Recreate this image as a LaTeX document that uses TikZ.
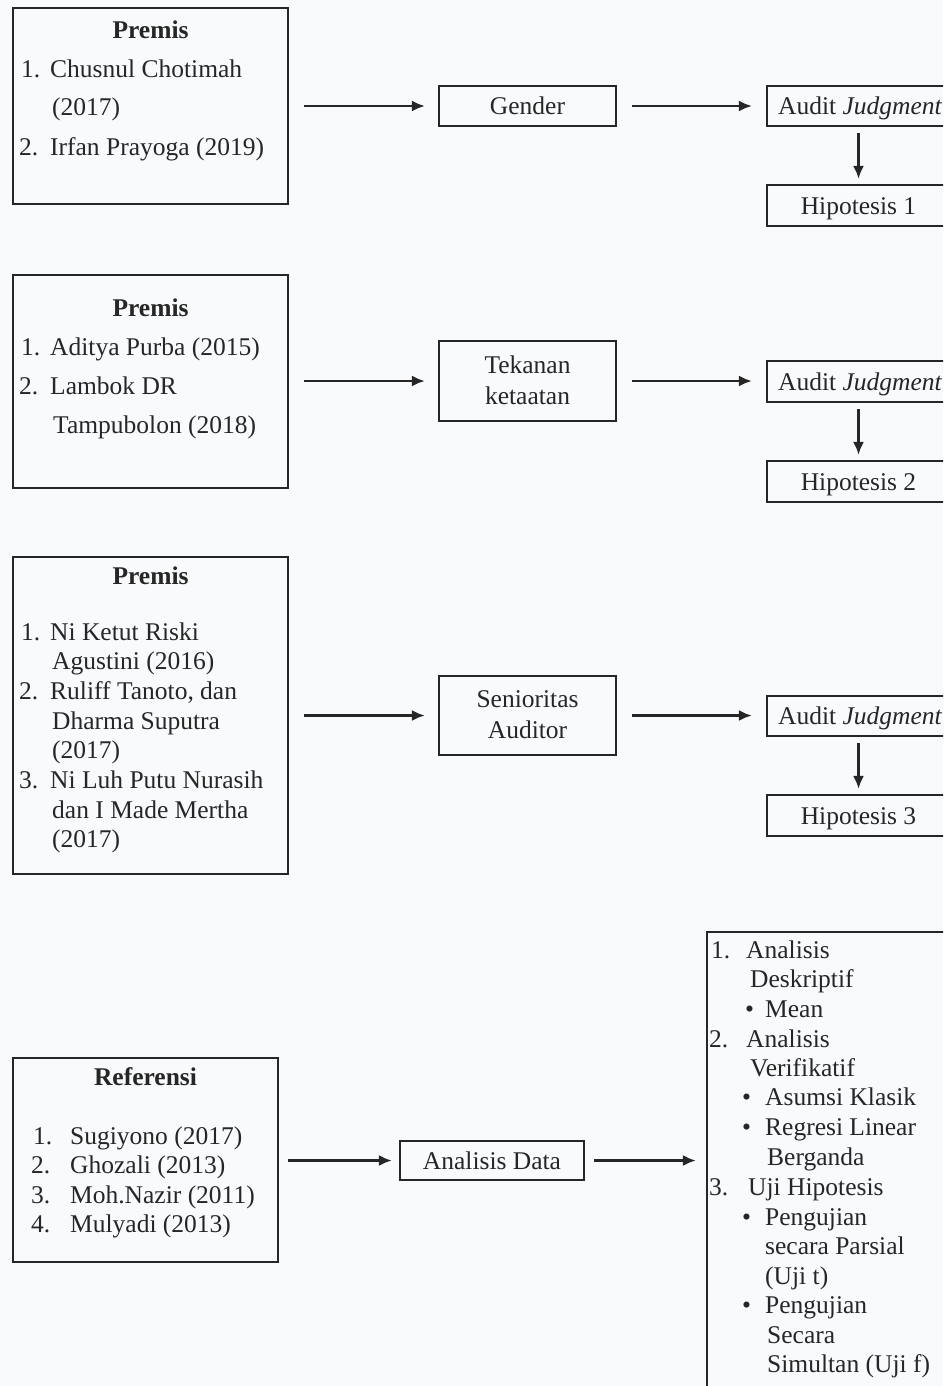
\documentclass[tikz,border=0pt]{standalone}
\usepackage{fontspec}
\setmainfont{Liberation Serif}
\usetikzlibrary{arrows.meta}
\definecolor{bg}{HTML}{F8FAFC}
\definecolor{ink}{HTML}{262626}
\begin{document}
\begin{tikzpicture}[x=1pt,y=-1pt,
  box/.style={draw=ink, line width=2.3pt, inner sep=0pt, rectangle},
  txt/.style={inner sep=0pt, anchor=base west, text=ink, font=\fontsize{25.5}{30}\selectfont},
  ctxt/.style={txt, anchor=base},
  hd/.style={ctxt, font=\fontsize{25.5}{30}\selectfont\bfseries},
  arr/.style={draw=ink, line width=2.3pt, -{Latex[length=13pt,width=11pt]}}
]
\path[use as bounding box, fill=bg] (0,0) rectangle (943,1386);
\clip (0,0) rectangle (943,1386);

% ---------- Row 1 ----------
\node[box, minimum width=275pt, minimum height=196pt] (p1) at (150.5,106) {};
\node[hd] (p1h) at (150.5,39) {Premis};
\node[txt] (p1n1) at (21,78) {1.};
\node[txt] (p1a) at (50,78) {Chusnul Chotimah};
\node[txt] (p1b) at (52,116) {(2017)};
\node[txt] (p1n2) at (19,155) {2.};
\node[txt] (p1c) at (50,155) {Irfan Prayoga (2019)};

\node[box, minimum width=177pt, minimum height=40pt] (g1) at (527.5,106) {};
\node[ctxt] (g1t) at (527.5,114) {Gender};
\node[box, minimum width=183pt, minimum height=40pt] (a1) at (858.5,106) {};
\node[txt] (a1t) at (778,114) {Audit \textit{Judgment}};
\node[box, minimum width=183pt, minimum height=41pt] (h1) at (858.5,205.5) {};
\node[ctxt] (h1t) at (858.5,214) {Hipotesis 1};

\draw[arr, shorten <=15pt, shorten >=13pt] (p1.east |- g1.west) -- (g1.west);
\draw[arr, shorten <=15pt, shorten >=14pt] (g1.east) -- (a1.west);
\draw[arr, shorten <=6pt, shorten >=5pt] (a1.south) -- (h1.north);

% ---------- Row 2 ----------
\node[box, minimum width=275pt, minimum height=213pt] (p2) at (150.5,381.5) {};
\node[hd] (p2h) at (150.5,316) {Premis};
\node[txt] (p2n1) at (21,355) {1.};
\node[txt] (p2a) at (50,355) {Aditya Purba (2015)};
\node[txt] (p2n2) at (19,394) {2.};
\node[txt] (p2b) at (50,394) {Lambok DR};
\node[txt] (p2c) at (53,433) {Tampubolon (2018)};

\node[box, minimum width=177pt, minimum height=80pt] (g2) at (527.5,381) {};
\node[ctxt] (g2a) at (527.5,373) {Tekanan};
\node[ctxt] (g2b) at (527.5,404) {ketaatan};
\node[box, minimum width=183pt, minimum height=41pt] (a2) at (858.5,381.5) {};
\node[txt] (a2t) at (778,390) {Audit \textit{Judgment}};
\node[box, minimum width=183pt, minimum height=41pt] (h2) at (858.5,481.5) {};
\node[ctxt] (h2t) at (858.5,490) {Hipotesis 2};

\draw[arr, shorten <=15pt, shorten >=13pt] (p2.east |- g2.west) -- (g2.west);
\draw[arr, shorten <=15pt, shorten >=14pt] (g2.east) -- (g2.east -| a2.west);
\draw[arr, shorten <=6pt, shorten >=5pt] (a2.south) -- (h2.north);

% ---------- Row 3 ----------
\node[box, minimum width=275pt, minimum height=317pt] (p3) at (150.5,715.5) {};
\node[hd] (p3h) at (150.5,584) {Premis};
\node[txt] (p3n1) at (21,640) {1.};
\node[txt] (p3a) at (50,640) {Ni Ketut Riski};
\node[txt] (p3b) at (52,669) {Agustini (2016)};
\node[txt] (p3n2) at (19,699) {2.};
\node[txt] (p3c) at (50,699) {Ruliff Tanoto, dan};
\node[txt] (p3d) at (52,729) {Dharma Suputra};
\node[txt] (p3e) at (52,758) {(2017)};
\node[txt] (p3n3) at (19,788) {3.};
\node[txt] (p3f) at (50,788) {Ni Luh Putu Nurasih};
\node[txt] (p3g) at (52,818) {dan I Made Mertha};
\node[txt] (p3h2) at (52,847) {(2017)};

\node[box, minimum width=177pt, minimum height=79pt] (g3) at (527.5,715.5) {};
\node[ctxt] (g3a) at (527.5,707) {Senioritas};
\node[ctxt] (g3b) at (527.5,738) {Auditor};
\node[box, minimum width=183pt, minimum height=40pt] (a3) at (858.5,716) {};
\node[txt] (a3t) at (778,724) {Audit \textit{Judgment}};
\node[box, minimum width=183pt, minimum height=41pt] (h3) at (858.5,815.5) {};
\node[ctxt] (h3t) at (858.5,824) {Hipotesis 3};

\draw[arr, shorten <=15pt, shorten >=13pt] (p3.east |- g3.west) -- (g3.west);
\draw[arr, shorten <=15pt, shorten >=14pt] (g3.east) -- (g3.east -| a3.west);
\draw[arr, shorten <=6pt, shorten >=5pt] (a3.south) -- (h3.north);

% ---------- Row 4 ----------
\node[box, minimum width=265pt, minimum height=204pt] (p4) at (145.5,1160) {};
\node[hd] (p4h) at (145.5,1085) {Referensi};
\node[txt] (p4n1) at (33,1144) {1.};
\node[txt] (p4a) at (70,1144) {Sugiyono (2017)};
\node[txt] (p4n2) at (31,1173) {2.};
\node[txt] (p4b) at (70,1173) {Ghozali (2013)};
\node[txt] (p4n3) at (31,1203) {3.};
\node[txt] (p4c) at (70,1203) {Moh.Nazir (2011)};
\node[txt] (p4n4) at (31,1232) {4.};
\node[txt] (p4d) at (70,1232) {Mulyadi (2013)};

\node[box, minimum width=184pt, minimum height=39pt] (g4) at (492,1160.5) {};
\node[ctxt] (g4t) at (492,1169) {Analisis Data};

\node[box, minimum width=243pt, minimum height=463pt] (r4) at (828.5,1163.5) {};
\node[txt] (r1n) at (711,958) {1.};
\node[txt] (r1a) at (746,958) {Analisis};
\node[txt] (r1b) at (750,987) {Deskriptif};
\node[txt] (r1c) at (745,1017) {\textbullet};
\node[txt] (r1d) at (765,1017) {Mean};
\node[txt] (r2n) at (709,1047) {2.};
\node[txt] (r2a) at (746,1047) {Analisis};
\node[txt] (r2b) at (750,1076) {Verifikatif};
\node[txt] (r2c) at (742,1105) {\textbullet};
\node[txt] (r2d) at (765,1105) {Asumsi Klasik};
\node[txt] (r2e) at (742,1135) {\textbullet};
\node[txt] (r2f) at (765,1135) {Regresi Linear};
\node[txt] (r2g) at (767,1165) {Berganda};
\node[txt] (r3n) at (709,1195) {3.};
\node[txt] (r3a) at (748,1195) {Uji Hipotesis};
\node[txt] (r3b) at (742,1225) {\textbullet};
\node[txt] (r3c) at (765,1225) {Pengujian};
\node[txt] (r3d) at (765,1254) {secara Parsial};
\node[txt] (r3e) at (765,1284) {(Uji t)};
\node[txt] (r3f) at (742,1313) {\textbullet};
\node[txt] (r3g) at (765,1313) {Pengujian};
\node[txt] (r3h) at (767,1343) {Secara};
\node[txt] (r3i) at (767,1372) {Simultan (Uji f)};

\draw[arr, shorten <=9pt, shorten >=7pt] (p4.east |- g4.west) -- (g4.west);
\draw[arr, shorten <=9pt, shorten >=10pt] (g4.east) -- (r4.west |- g4.east);
\end{tikzpicture}
\end{document}
